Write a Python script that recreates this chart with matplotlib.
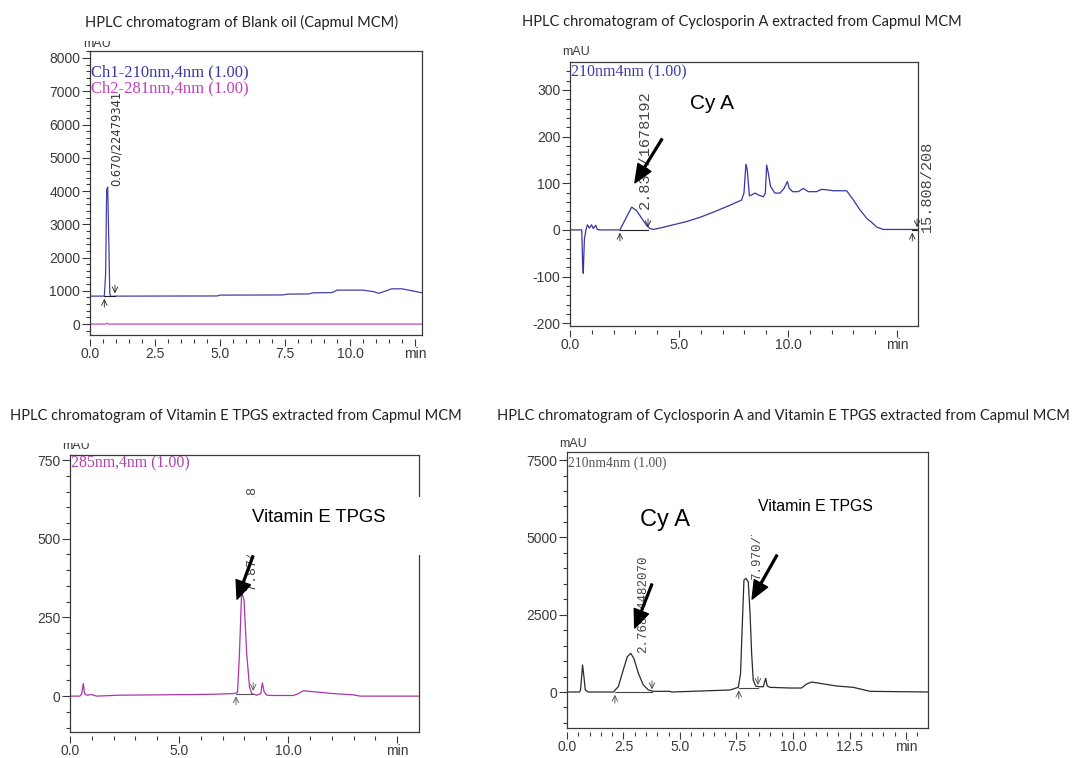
import numpy as np
import matplotlib.pyplot as plt
from matplotlib.patches import Rectangle
from matplotlib.transforms import Bbox, TransformedBbox

# Panel 1: aceite blanco (Capmul MCM), dos canales
t1_ch1 = [0.0, 0.55, 0.60, 0.64, 0.68, 0.72, 0.76, 0.80, 1.0, 4.9, 5.0, 7.4, 7.6, 8.4, 8.6,
          9.3, 9.5, 10.5, 10.9, 11.1, 11.4, 11.6, 12.0, 12.77]
v1_ch1 = [840, 840, 1500, 4050, 4120, 2600, 900, 830, 840, 845, 870, 875, 900, 905, 940,
          945, 1020, 1020, 975, 925, 1000, 1060, 1060, 940]
t1_ch2 = [0.0, 0.60, 0.65, 0.70, 12.77]
v1_ch2 = [0, 0, 25, 0, 0]

# Panel 2: ciclosporina A
t2 = [0.0, 0.46, 0.54, 0.58, 0.61, 0.66, 0.73, 0.80, 0.89, 0.99, 1.07, 1.18, 1.25, 1.38,
      2.29, 2.52, 2.83, 3.06, 3.29, 3.52, 3.67, 3.82, 4.13, 4.74, 5.35, 5.96, 6.57, 7.19,
      7.87, 7.98, 8.07, 8.13, 8.23, 8.33, 8.49, 8.64, 8.87, 8.96, 9.02, 9.10, 9.20, 9.40,
      9.63, 9.82, 9.97, 10.06, 10.21, 10.47, 10.70, 10.93, 11.31, 11.54, 11.77, 12.08,
      12.69, 13.0, 13.30, 13.61, 13.84, 14.07, 14.37, 15.14, 15.98]
v2 = [0, 0, 0, -71, -93, -21, 0, 11, 4, 11, 3, 10, 1, 0,
      0, 21, 49, 41, 25, 9, 3, 1, 4, 11, 18, 27, 38, 50,
      64, 79, 141, 129, 73, 75, 79, 75, 71, 79, 139, 121, 93, 79,
      79, 89, 104, 89, 82, 82, 89, 82, 82, 87, 86, 84,
      84, 64, 43, 25, 16, 6, 1, 1, 1]

# Panel 3: vitamina E TPGS
t3 = [0.0, 0.46, 0.54, 0.61, 0.67, 0.76, 0.99, 1.22, 2.29, 5.66, 6.57, 7.49, 7.68, 7.77,
      7.87, 7.98, 8.10, 8.23, 8.33, 8.56, 8.75, 8.82, 8.90, 9.02, 9.25, 10.24, 10.47,
      10.70, 11.0, 11.47, 12.08, 13.0, 13.3, 16.0]
v3 = [0, 0, 8, 40, 8, 3, 5, 0, 3, 5, 6, 8, 11, 136,
      332, 305, 136, 30, 8, 3, 8, 42, 14, 3, 2, 2, 8,
      17, 15, 12, 8, 4, 0, 0]

# Panel 4: ciclosporina A + vitamina E TPGS
t4 = [0.0, 0.55, 0.60, 0.69, 0.75, 0.81, 0.94, 2.05, 2.27, 2.49, 2.67, 2.82, 2.96, 3.16,
      3.38, 3.60, 3.82, 4.56, 4.63, 7.21, 7.58, 7.68, 7.77, 7.83, 7.92, 8.02, 8.10, 8.17,
      8.24, 8.35, 8.47, 8.69, 8.79, 8.86, 8.98, 9.87, 10.38, 10.60, 10.83, 11.19, 11.93,
      12.67, 13.41, 15.99]
v4 = [0, 0, 65, 872, 495, 65, 0, 0, 172, 711, 1142, 1250, 1088, 603,
      226, 65, 22, 22, 0, 65, 151, 603, 2434, 3619, 3673, 3565, 2541, 1250,
      388, 194, 172, 172, 442, 194, 151, 129, 129, 258, 323, 280, 194,
      151, 22, 0]

# marcas de integracion (inicio, fin, nivel de la linea base)
p1_ini, p1_fin, p1_base = [0.55], [0.96], [840]
p2_ini, p2_fin, p2_base = [2.29, 15.70], [3.58, 15.92], [0, 0]
p3_ini, p3_fin, p3_base = [7.61], [8.40], [8]
p4_ini, p4_fin, p4_base = [2.12, 7.60], [3.76, 8.45], [0, 140]

titulos = ["HPLC chromatogram of Blank oil (Capmul MCM)",
           "HPLC chromatogram of Cyclosporin A extracted from Capmul MCM",
           "HPLC chromatogram of Vitamin E TPGS extracted from Capmul MCM",
           "HPLC chromatogram of Cyclosporin A and Vitamin E TPGS extracted from Capmul MCM"]

fuente_ejes = ['Liberation Sans Narrow', 'Liberation Sans']
gris = '#3a3a3a'

fig = plt.figure(figsize=(10.73, 7.58), dpi=100)


def marco(ax, xlim, ylim, xt, xtl, xmin_paso, yt, ymin_paso):
    ax.set_xlim(xlim)
    ax.set_ylim(ylim)
    ax.set_xticks(xt)
    ax.set_xticklabels(xtl)
    ax.set_xticks(np.arange(0, xlim[1], xmin_paso), minor=True)
    ax.set_yticks(yt)
    ax.set_yticklabels([str(v) for v in yt])
    y0 = np.ceil(ylim[0] / ymin_paso) * ymin_paso
    ax.set_yticks(np.arange(y0, ylim[1], ymin_paso), minor=True)
    ax.tick_params(which='both', direction='out', color=gris, width=0.8,
                   labelsize=10, labelcolor=gris, labelfontfamily=fuente_ejes)
    ax.tick_params(which='major', length=5.5, pad=1.5)
    ax.tick_params(which='minor', length=2.8)
    ax.tick_params(axis='x', which='major', length=5, pad=0.8)
    for s in ['top', 'right', 'left']:
        ax.spines[s].set_color(gris)
        ax.spines[s].set_linewidth(0.9)
    # el eje x va separado del marco, como en el software del HPLC
    ax.spines['bottom'].set_position(('outward', 3))
    ax.spines['bottom'].set_color('none')
    ax.plot([0, 1], [0, 0], transform=ax.transAxes, color=gris, lw=0.9, clip_on=False)


def integracion(ax, ini, fin, base, color='#222222'):
    for a, b, y in zip(ini, fin, base):
        ax.plot([a, b], [y, y], color=color, lw=0.8)
        ax.annotate('', xy=(a, y), xytext=(0, -10), textcoords='offset points',
                    arrowprops=dict(arrowstyle='->', lw=0.6, color=color))
        ax.annotate('', xy=(b, y), xytext=(0, 10), textcoords='offset points',
                    arrowprops=dict(arrowstyle='->', lw=0.6, color=color))


def flecha(ax, cabeza, cola):
    ax.annotate('', xy=cabeza, xytext=cola,
                arrowprops=dict(facecolor='black', edgecolor='black', width=1.3,
                                headwidth=11, headlength=13, shrink=0))


def mau(x, y, corte=None):
    t = fig.text(x / 1073, 1 - y / 758, 'mAU', ha='center', va='center', fontsize=9,
                 color=gris, family=fuente_ejes)
    if corte is not None:
        caja = Bbox.from_extents(0, 0, 1, 1 - corte / 758)
        t.set_clip_box(TransformedBbox(caja, fig.transFigure))
        t.set_clip_on(True)


# ---------- Panel 1 ----------
ax1 = fig.add_axes([0.0839, 0.558, 0.3094, 0.3747])
marco(ax1, (0, 12.77), (-330, 8210), [0, 2.5, 5, 7.5, 10, 12.5],
      ['0.0', '2.5', '5.0', '7.5', '10.0', 'min'], 0.5,
      [0, 1000, 2000, 3000, 4000, 5000, 6000, 7000, 8000], 200)
ax1.plot(t1_ch2, v1_ch2, color='#cc44cc', lw=0.9)
ax1.plot(t1_ch1, v1_ch1, color='#4040a8', lw=0.9)
integracion(ax1, p1_ini, p1_fin, p1_base)
ax1.text(1.0, 4150, '0.670/22479341', rotation=90, ha='center', va='bottom',
         fontsize=8.3, color='#333333')
ax1.text(0.004, 0.926, 'Ch1-210nm,4nm (1.00)', transform=ax1.transAxes, va='center',
         family='Liberation Serif', fontsize=12, color='#3a3aa8')
ax1.text(0.004, 0.870, 'Ch2-281nm,4nm (1.00)', transform=ax1.transAxes, va='center',
         family='Liberation Serif', fontsize=12, color='#c040c0')
mau(97, 44, corte=41)

# ---------- Panel 2 ----------
ax2 = fig.add_axes([0.5312, 0.5699, 0.3243, 0.3483])
marco(ax2, (0, 15.96), (-206, 360), [0, 5, 10, 15], ['0.0', '5.0', '10.0', 'min'], 1,
      [-200, -100, 0, 100, 200, 300], 20)
ax2.plot(t2, v2, color='#3535a5', lw=0.9)
integracion(ax2, p2_ini, p2_fin, p2_base)
ax2.text(3.45, 45, '2.836/1678192', rotation=90, ha='center', va='bottom',
         fontsize=11, family='Liberation Mono', color='#444444')
ax2.text(16.35, -5, '15.808/208', rotation=90, ha='center', va='bottom',
         fontsize=11, family='Liberation Mono', color='#444444', clip_on=False)
ax2.text(0.004, 0.962, '210nm4nm (1.00)', transform=ax2.transAxes, va='center',
         family='Liberation Serif', fontsize=11.5, color='#3a3aa8')
ax2.text(5.5, 272, 'Cy A', fontsize=15, family='Liberation Sans', va='center')
flecha(ax2, (2.98, 101), (4.22, 195))
mau(576, 52)

# ---------- Panel 3 ----------
ax3 = fig.add_axes([0.0652, 0.0343, 0.3253, 0.3654])
marco(ax3, (0, 16.0), (-114, 766), [0, 5, 10, 15], ['0.0', '5.0', '10.0', 'min'], 1,
      [0, 250, 500, 750], 50)
ax3.plot(t3, v3, color='#aa35aa', lw=0.9)
integracion(ax3, p3_ini, p3_fin, p3_base, color='#555555')
ax3.text(8.35, 337, '7.874/3046218', rotation=90, ha='center', va='bottom',
         fontsize=9.5, family='Liberation Mono', color='#444444', zorder=2)
ax3.add_patch(Rectangle((0.50, 0.639), 0.53, 0.209, transform=ax3.transAxes,
                        facecolor='white', edgecolor='none', zorder=4, clip_on=False))
ax3.text(8.35, 569, 'Vitamin E TPGS', fontsize=13.3, family='Liberation Sans',
         va='center', zorder=5)
ax3.text(0.004, 0.971, '285nm,4nm (1.00)', transform=ax3.transAxes, va='center',
         family='Liberation Serif', fontsize=11.4, color='#b040b0')
flecha(ax3, (7.66, 308), (8.39, 445))
mau(76, 446, corte=443)

# ---------- Panel 4 ----------
ax4 = fig.add_axes([0.5284, 0.0396, 0.3364, 0.3641])
marco(ax4, (0, 15.97), (-1163, 7760), [0, 2.5, 5, 7.5, 10, 12.5, 15],
      ['0.0', '2.5', '5.0', '7.5', '10.0', '12.5', 'min'], 0.5,
      [0, 2500, 5000, 7500], 500)
ax4.plot(t4, v4, color='#2a2a2a', lw=0.9)
integracion(ax4, p4_ini, p4_fin, p4_base, color='#444444')
ax4.text(3.36, 1260, '2.768/4482070', rotation=90, ha='center', va='bottom',
         fontsize=9, family='Liberation Mono', color='#444444', zorder=2)
ax4.text(8.41, 3620, '7.970/7541320', rotation=90, ha='center', va='bottom',
         fontsize=9, family='Liberation Mono', color='#444444', zorder=2)
ax4.add_patch(Rectangle((0.507, 0.699), 0.415, 0.181, transform=ax4.transAxes,
                        facecolor='white', edgecolor='none', zorder=4))
ax4.text(8.45, 6008, 'Vitamin E TPGS', fontsize=11.4, family='Liberation Sans',
         va='center', zorder=5)
ax4.text(3.23, 5555, 'Cy A', fontsize=17, family='Liberation Sans', va='center')
ax4.text(0.004, 0.960, '210nm4nm (1.00)', transform=ax4.transAxes, va='center',
         family='Liberation Serif', fontsize=9.8, color='#555555')
flecha(ax4, (3.0, 2070), (3.76, 3490))
flecha(ax4, (8.19, 3004), (9.29, 4425))
mau(573, 444)

# titulos de cada cromatograma
pos_titulos = [(242, 22), (742, 22), (236, 416), (783, 416)]
for txt, (x, y) in zip(titulos, pos_titulos):
    fig.text(x / 1073, 1 - y / 758, txt, ha='center', va='center', fontsize=10.5,
             family=['Lato', 'DejaVu Sans'], color='#222222')

fig.savefig('out.png', dpi=100)
